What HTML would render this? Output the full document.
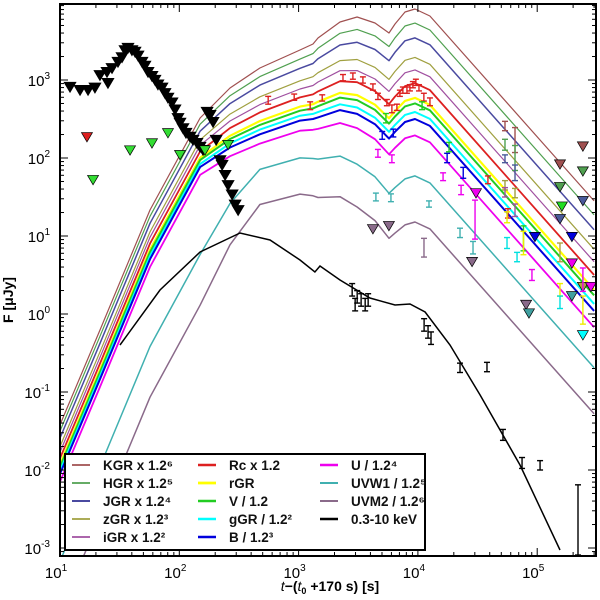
<!DOCTYPE html>
<html><head><meta charset="utf-8"><style>
html,body{margin:0;padding:0;background:#fff;overflow:hidden;}
svg{display:block;font-family:"Liberation Sans",sans-serif;}
</style></head><body>
<svg id="chart" width="600" height="600" viewBox="0 0 600 600" xmlns="http://www.w3.org/2000/svg">
<rect x="0" y="0" width="600" height="600" fill="#fff"/>
<g id="curves"></g>
<g id="marks"></g>
<g id="axes"></g>
<text x="330" y="591" font-size="14" text-anchor="middle" font-weight="bold"><tspan font-style="italic" font-weight="normal">t</tspan>−(<tspan font-style="italic" font-weight="normal">t</tspan><tspan font-size="9" dy="3">0</tspan><tspan dy="-3"> +170 s) [s]</tspan></text>
<text transform="translate(13,300) rotate(-90)" font-size="14" text-anchor="middle" font-weight="bold">F [μJy]</text>
<g id="legend"></g>
</svg>
<script>
// ---- data ----
const kgrLogT = [1, 1.335, 1.754, 2.174, 2.425, 2.676, 3.012, 3.121, 3.163, 3.347, 3.490, 3.640, 3.758, 3.808, 3.892, 3.976, 4.101, 5.477];
const kgrLogF = [-1.42, -0.205, 1.333, 2.513, 2.897, 3.154, 3.385, 3.462, 3.538, 3.744, 3.808, 3.731, 3.603, 3.718, 3.872, 3.910, 3.821, 1.45];
const phase = [0, 0, 0, 0, 0.6, 1, 1.1, 1.2, 1.3, 1.5, 1.7, 1.8, 1.9, 1.95, 2, 2, 2, 2];
const bandNames = ["KGR x 1.2⁶","HGR x 1.2⁵","JGR x 1.2⁴","zGR x 1.2³","iGR x 1.2²","Rc x 1.2","rGR","V / 1.2","gGR / 1.2²","B / 1.2³","U / 1.2⁴","UVW1 / 1.2⁵","UVM2 / 1.2⁶"];
const bandOffsetsEarly = [0, -0.08, -0.17, -0.28, -0.35, -0.43, -0.51, -0.54, -0.59, -0.63, -0.73, -1.75, -2.4];
const bandOffsetsMid = [0, -0.11, -0.22, -0.37, -0.47, -0.57, -0.68, -0.73, -0.79, -0.85, -0.97, -1.3, -1.75];
const bandOffsets = [0, -0.18, -0.37, -0.62, -0.78, -0.95, -1.14, -1.21, -1.32, -1.41, -1.62, -2.14, -2.73];
const xrayLogT = [1.503, 1.838, 2.174, 2.509, 2.760, 3.012, 3.137, 3.179, 3.347, 3.598, 3.808, 3.934, 4.060, 4.269, 4.521, 4.856, 5.191];
const xrayLogF = [-0.397, 0.308, 0.795, 1.038, 0.949, 0.692, 0.538, 0.615, 0.436, 0.205, 0.115, 0.128, 0.026, -0.397, -1.038, -1.936, -3.026];
const blackLimT = [1.084,1.168,1.235,1.293,1.335,1.394,1.402,1.436,1.486,1.520,1.545,1.570,1.603,1.629,1.654,1.687,1.712,1.738,1.771,1.796,1.821,1.855,1.880,1.905,1.939,1.964,1.989,2.006,2.031,2.056,2.090,2.115,2.148,2.174,2.199,2.233,2.258,2.283,2.309,2.342,2.359,2.384,2.409,2.443,2.468,2.493];
const blackLimF = [2.91,2.87,2.87,2.90,3.06,3.10,2.96,3.15,3.23,3.29,3.38,3.41,3.38,3.36,3.31,3.23,3.18,3.10,3.05,3.00,2.94,2.90,2.83,2.77,2.71,2.62,2.51,2.45,2.38,2.32,2.27,2.23,2.19,2.14,2.10,2.59,2.55,2.46,2.23,1.97,1.91,1.78,1.65,1.53,1.40,1.33];
const colLimT = [1.226,1.277,1.587,1.771,1.905,2.006,2.215,2.409,5.383,5.191,5.383,5.191,5.383,5.207,5.191,4.981,5.291,4.487,5.291,4.454,5.383,5.450,5.291,4.907,4.931,5.383,3.623,3.757];
const colLimF = [2.27,1.72,2.10,2.19,2.32,2.04,2.10,2.17,2.15,1.92,1.83,1.63,1.45,1.38,1.22,0.99,0.99,1.55,0.65,0.67,0.35,0.35,0.23,0.12,0.01,-0.27,1.09,1.13];
const colLimC = ["#dd2020","#33dd33","#33dd33","#33dd33","#33dd33","#33dd33","#33dd33","#33dd33","#a05050","#a05050","#50a050","#50a050","#4a5a9a","#22dd22","#4a5a9a","#0000dd","#0000dd","#ee00ee","#ee00ee","#8a6a8a","#b0a040","#ee00ee","#40a0a0","#8a6a8a","#40a0a0","#00ffff","#8a6a8a","#8a6a8a"];
const errT = [2.745,2.963,3.097,3.198,3.372,3.455,3.539,3.623,3.665,3.740,3.782,3.824,3.849,3.874,3.908,3.933,3.958,3.983,4.009,4.050,4.101,4.587,4.755,
 3.732,4.035,4.261,4.885, 3.701,3.794,4.245,4.380, 3.665,3.782,4.211,4.362,4.479, 3.648,3.774,4.093,4.353,4.462, 4.051,
 3.449,3.491,3.524,3.558,3.474,3.583,4.052,4.085,4.110,4.353,4.579,4.713,4.873,5.024,5.342,
 4.730,4.814,4.730,4.814,4.730,4.814,4.730,4.814,4.730,4.814,4.747,4.885,4.747,4.831,4.956,5.191,5.191,5.191,5.383,5.383];
const errF = [2.74,2.78,2.67,2.77,3.03,3.05,3.00,2.91,2.79,2.71,2.63,2.65,2.83,2.87,2.87,2.90,2.94,2.97,2.90,2.78,2.72,1.72,1.29,
 2.51,2.67,2.14,0.97, 2.29,2.32,2.00,1.81, 2.06,1.99,1.76,1.59,1.21, 1.50,1.49,1.41,1.04,0.85, 0.85,
 0.31,0.22,0.18,0.12,0.12,0.18,-0.14,-0.23,-0.31,-0.69,-0.68,-1.55,-1.91,-1.94,-2.64,
 2.41,2.23,2.17,2.00,1.99,1.81,1.65,1.55,1.56,1.33,1.24,0.91,0.91,0.73,0.50,0.79,0.31,0.15,0.05,0.44];
const errE = [0.05,0.04,0.05,0.04,0.04,0.04,0.04,0.04,0.04,0.04,0.05,0.04,0.04,0.04,0.04,0.04,0.04,0.04,0.04,0.05,0.05,0.05,0.06,
 0.06,0.05,0.06,0.16, 0.05,0.05,0.06,0.07, 0.05,0.05,0.05,0.06,0.25, 0.05,0.05,0.04,0.06,0.08, 0.12,
 0.08,0.08,0.08,0.08,0.08,0.08,0.08,0.08,0.08,0.06,0.06,0.07,0.07,0.06,0.45,
 0.06,0.16,0.07,0.16,0.05,0.10,0.06,0.06,0.06,0.08,0.07,0.15,0.07,0.06,0.07,0.12,0.08,0.08,0.18,0.15];
const errC = Array(23).fill("#dd2020").concat(Array(4).fill("#22cc22"),Array(4).fill("#0000dd"),Array(5).fill("#ee00ee"),Array(5).fill("#40b0b0"),["#8a6a8a"],Array(15).fill("#000000"),
 ["#a05050","#a05050","#50a050","#50a050","#4a5a9a","#4a5a9a","#a0a040","#a0a040","#a050a0","#a050a0","#eeee00","#eeee00","#00e0e0","#00e0e0","#ee00ee","#b0a040","#eeee00","#00e0e0","#eeee00","#ee00ee"]);
const xTickExp = [1,2,3,4,5];
const yTickExp = [3,2,1,0,-1,-2,-3];

// ---- styles ----
const bandColors = ["#a05050","#50a050","#4a4aa0","#a0a040","#a050a0","#dd2020","#ffff00","#22cc22","#00ffff","#0000dd","#ee00ee","#40b0b0","#8a6a8a"];
const bandWidths = [1.2,1.2,1.5,1.2,1.2,1.8,2.2,2,2,2,1.8,1.5,1.5];
const L=60,R=596,T=4,B=556;
const X0=1, XD=119.3, YTOP=3+(80-4)/78, YD=78;
function X(lt){return L+(lt-X0)*XD;}
function Y(lf){return 80+(3-lf)*YD;}
function offsetAt(i,p){
  if(p<=1) return bandOffsetsEarly[i]+(bandOffsetsMid[i]-bandOffsetsEarly[i])*p;
  return bandOffsetsMid[i]+(bandOffsets[i]-bandOffsetsMid[i])*(p-1);
}
const NS="http://www.w3.org/2000/svg";
function mk(tag,attrs,parent){const e=document.createElementNS(NS,tag);for(const k in attrs)e.setAttribute(k,attrs[k]);parent.appendChild(e);return e;}

const defs=mk('defs',{},document.getElementById('chart'));
const cp=mk('clipPath',{id:'plotclip'},defs);
mk('rect',{x:L,y:T,width:R-L,height:B-T},cp);

const curves=document.getElementById('curves');
curves.setAttribute('clip-path','url(#plotclip)');
bandOffsets.forEach((off,i)=>{
  const pts=kgrLogT.map((t,j)=>X(t).toFixed(1)+','+Y(kgrLogF[j]+offsetAt(i,phase[j])).toFixed(1)).join(' ');
  const p=mk('polyline',{points:pts,fill:'none',stroke:bandColors[i],'stroke-width':bandWidths[i],'stroke-linejoin':'round'},curves);
  
  
});
{
  const pts=xrayLogT.map((t,j)=>X(t).toFixed(1)+','+Y(xrayLogF[j]).toFixed(1)).join(' ');
  const p=mk('polyline',{points:pts,fill:'none',stroke:'#000','stroke-width':1.5},curves);
  
  
}

const marks=document.getElementById('marks');
marks.setAttribute('clip-path','url(#plotclip)');
function tri(x,y,c,s){return mk('polygon',{points:`${x-s},${y-s*0.8} ${x+s},${y-s*0.8} ${x},${y+s*0.9}`,fill:c,stroke:'#000','stroke-width':0.7},marks);}
blackLimT.forEach((t,i)=>{
  const m=tri(X(t),Y(blackLimF[i]),'#000',6);
  
  
});
colLimT.forEach((t,i)=>{
  const m=tri(X(t),Y(colLimF[i]),colLimC[i],5.5);
  
  
});
errT.forEach((t,i)=>{
  const x=X(t),y1=Y(errF[i]+errE[i]),y2=Y(errF[i]-errE[i]),c=errC[i];
  const g=mk('g',{stroke:c,'stroke-width':1.4},marks);
  
  
  mk('line',{x1:x,x2:x,y1:y1,y2:y2},g);
  mk('line',{x1:x-3,x2:x+3,y1:y1,y2:y1},g);
  mk('line',{x1:x-3,x2:x+3,y1:y2,y2:y2},g);
});

const axes=document.getElementById('axes');
const fr=mk('rect',{x:L,y:T,width:R-L,height:B-T,fill:'none',stroke:'#000','stroke-width':2},axes);


const XMAX=X0+(R-L)/XD, YMIN=3-(B-80)/YD;
for(let e=1;e<=6;e++){for(let m=1;m<10;m++){const lt=e+Math.log10(m);if(lt>XMAX)continue;const x=X(lt),len=m===1?8:4;
  mk('line',{x1:x,x2:x,y1:B,y2:B-len,stroke:'#000','stroke-width':1},axes);
  mk('line',{x1:x,x2:x,y1:T,y2:T+len,stroke:'#000','stroke-width':1},axes);}}
for(let e=-4;e<=4;e++){for(let m=1;m<10;m++){const lf=e+Math.log10(m);if(lf>YTOP||lf<YMIN)continue;const y=Y(lf),len=m===1?8:4;
  mk('line',{x1:L,x2:L+len,y1:y,y2:y,stroke:'#000','stroke-width':1},axes);
  mk('line',{x1:R,x2:R-len,y1:y,y2:y,stroke:'#000','stroke-width':1},axes);}}
xTickExp.forEach(e=>{
  const t=mk('text',{x:X(e)-4,y:578,'font-size':15,'text-anchor':'middle'},axes);
  
  
  t.innerHTML='10<tspan font-size="10" dy="-7">'+e+'</tspan>';
});
yTickExp.forEach(e=>{
  const t=mk('text',{x:50,y:Y(e)+6,'font-size':15,'text-anchor':'end'},axes);
  
  
  t.innerHTML='10<tspan font-size="10" dy="-7">'+e+'</tspan>';
});

const lg=document.getElementById('legend');
const lb=mk('rect',{x:65,y:454,width:360,height:96,fill:'#fff',stroke:'#000','stroke-width':2},lg);


const legNames=bandNames.concat(["0.3-10 keV"]);
const legColors=bandColors.concat(["#000"]);
const legWidths=bandWidths.concat([2]);
const colX=[72,198,320];
legNames.forEach((n,i)=>{
  const col=Math.floor(i/5),row=i%5,x=colX[col],y=465+row*18;
  const g=mk('g',{},lg);
  
  
  mk('line',{x1:x,x2:x+18,y1:y,y2:y,stroke:legColors[i],'stroke-width':legWidths[i]+0.6},g);
  const t=mk('text',{x:x+31,y:y+5,'font-size':13.5,'font-weight':'bold',fill:'#111'},g);
  t.textContent=n;
});
</script>
</body></html>
